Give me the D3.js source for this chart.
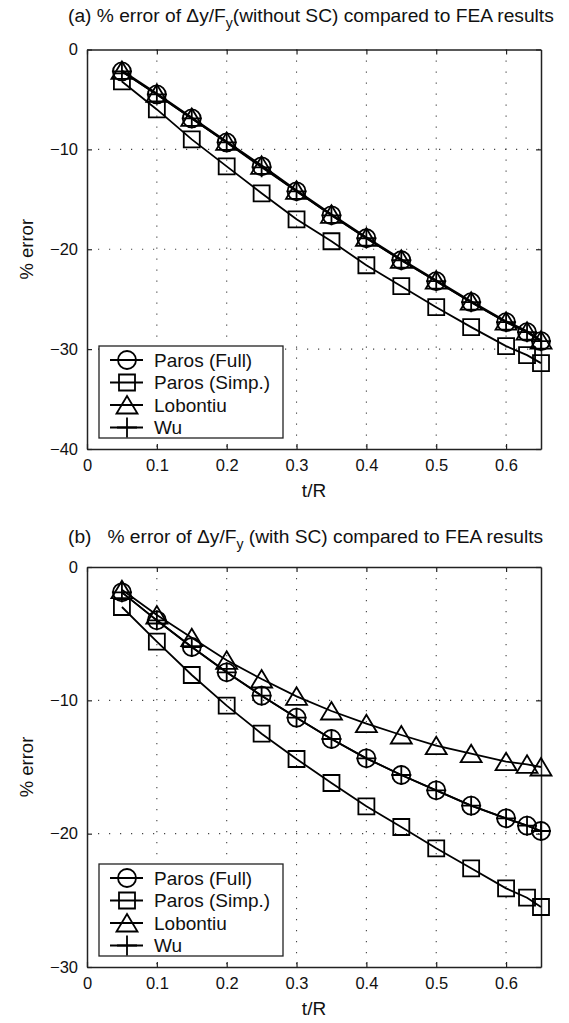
<!DOCTYPE html>
<html>
<head>
<meta charset="utf-8">
<script src="https://cdn.jsdelivr.net/npm/d3@7"></script>
<style>
  body { margin: 0; background: #fff; }
  svg text { font-family: "Liberation Sans", Arial, sans-serif; fill: #111; }
</style>
</head>
<body>
<svg id="chart"></svg>
<script>
// t/R values shared by both panels
const tR = [0.05, 0.1, 0.15, 0.2, 0.25, 0.3, 0.35, 0.4, 0.45, 0.5, 0.55, 0.6, 0.63, 0.65];

// (a) without SC
const fullA = [-2.2, -4.5, -6.9, -9.3, -11.7, -14.2, -16.6, -18.9, -21.1, -23.2, -25.3, -27.3, -28.3, -29.2];
const simpA = [-3.2, -6.0, -9.0, -11.7, -14.4, -17.0, -19.2, -21.6, -23.7, -25.8, -27.8, -29.7, -30.6, -31.4];
const lobA  = [-2.1, -4.4, -6.8, -9.2, -11.6, -14.1, -16.5, -18.8, -21.0, -23.1, -25.2, -27.2, -28.2, -29.1];
const wuA   = [-2.2, -4.5, -6.9, -9.3, -11.8, -14.2, -16.6, -18.9, -21.1, -23.2, -25.3, -27.3, -28.3, -29.2];

// (b) with SC
const fullB = [-1.9, -4.0, -6.0, -7.9, -9.65, -11.3, -12.9, -14.35, -15.6, -16.75, -17.9, -18.85, -19.4, -19.8];
const simpB = [-3.0, -5.6, -8.1, -10.4, -12.5, -14.4, -16.2, -17.95, -19.5, -21.1, -22.6, -24.1, -24.8, -25.5];
const lobB  = [-1.7, -3.6, -5.3, -7.0, -8.4, -9.7, -10.8, -11.75, -12.6, -13.4, -14.0, -14.6, -14.8, -15.0];
const wuB   = [-1.9, -4.0, -6.0, -7.9, -9.65, -11.3, -12.9, -14.35, -15.6, -16.75, -17.9, -18.85, -19.4, -19.8];

const seriesNames = ["Paros (Full)", "Paros (Simp.)", "Lobontiu", "Wu"];
const markerTypes = ["circle", "square", "triangle", "plus"];

const xTicks = [0, 0.1, 0.2, 0.3, 0.4, 0.5, 0.6];
const yTicksA = [0, -10, -20, -30, -40];
const yTicksB = [0, -10, -20, -30];

const width = 569, height = 1023;
const svg = d3.select("#chart").attr("width", width).attr("height", height);

const markerPath = {
  circle: "M-9,0A9,9 0 1,0 9,0A9,9 0 1,0 -9,0Z",
  square: "M-8,-8H8V8H-8Z",
  triangle: "M0,-9L10.5,8.5H-10.5Z",
  plus: "M-10,0H10M0,-10V10"
};

const fmt = v => (v < 0 ? "\u2212" + Math.abs(v) : String(v));

function panel(cfg) {
  const x = d3.scaleLinear().domain([0, 0.65]).range([87, 541]);
  const y = d3.scaleLinear().domain(cfg.yDomain).range([cfg.top, cfg.bottom]);
  const g = svg.append("g");

  // title
  const title = g.append("text")
    .attr("x", 68).attr("y", cfg.titleY)
    .style("font-size", "19.2px")
    .style("white-space", "pre");
  title.append("tspan").text(cfg.titlePre);
  title.append("tspan").attr("dy", 6).style("font-size", "14px").text("y");
  title.append("tspan").attr("dy", -6).text(cfg.titlePost);

  // dotted grid
  g.append("g").selectAll("line")
    .data(xTicks.filter(d => d > 0))
    .enter().append("line")
      .attr("x1", d => x(d)).attr("x2", d => x(d))
      .attr("y1", cfg.top).attr("y2", cfg.bottom)
      .attr("stroke", "#444").attr("stroke-width", 1.1)
      .attr("stroke-dasharray", "1.2,9.8");
  g.append("g").selectAll("line")
    .data(cfg.yTicks.slice(1, -1))
    .enter().append("line")
      .attr("x1", 87).attr("x2", 541)
      .attr("y1", d => y(d)).attr("y2", d => y(d))
      .attr("stroke", "#444").attr("stroke-width", 1.1)
      .attr("stroke-dasharray", "1.2,9.8");

  // axes: ticks inward on all four sides
  const axB = g.append("g").attr("transform", "translate(0," + cfg.bottom + ")")
    .call(d3.axisBottom(x).tickValues(xTicks).tickSizeInner(-5).tickSizeOuter(0).tickPadding(10).tickFormat(d => String(d)));
  const axT = g.append("g").attr("transform", "translate(0," + cfg.top + ")")
    .call(d3.axisTop(x).tickValues(xTicks).tickSizeInner(-5).tickSizeOuter(0).tickFormat(""));
  const axL = g.append("g").attr("transform", "translate(87,0)")
    .call(d3.axisLeft(y).tickValues(cfg.yTicks).tickSizeInner(-5).tickSizeOuter(0).tickPadding(9).tickFormat(fmt));
  const axR = g.append("g").attr("transform", "translate(541,0)")
    .call(d3.axisRight(y).tickValues(cfg.yTicks).tickSizeInner(-5).tickSizeOuter(0).tickFormat(""));
  [axB, axT, axL, axR].forEach(a => {
    a.select(".domain").attr("stroke", "#222").attr("stroke-width", 1.5);
    a.selectAll(".tick line").attr("stroke", "#222").attr("stroke-width", 1.2);
    a.selectAll("text").style("font-size", "16.5px").attr("fill", "#111");
  });
  axL.selectAll("text").attr("dy", "0.32em");

  // axis labels
  g.append("text")
    .attr("x", x(0.325)).attr("y", cfg.bottom + 48)
    .attr("text-anchor", "middle").style("font-size", "19px").text("t/R");
  g.append("text")
    .attr("transform", "translate(33," + ((cfg.top + cfg.bottom) / 2) + ") rotate(-90)")
    .attr("text-anchor", "middle").style("font-size", "18.5px").text("% error");

  // series
  const line = d3.line().x((d, i) => x(tR[i])).y(d => y(d));
  cfg.series.forEach((vals, k) => {
    g.append("path").datum(vals)
      .attr("d", line).attr("fill", "none")
      .attr("stroke", "#000").attr("stroke-width", 1.8);
    g.append("g").selectAll("path")
      .data(vals).enter().append("path")
        .attr("transform", (d, i) => "translate(" + x(tR[i]) + "," + y(d) + ")")
        .attr("d", markerPath[markerTypes[k]])
        .attr("fill", "none").attr("stroke", "#000").attr("stroke-width", 1.8);
  });

  // legend
  const lg = g.append("g");
  lg.append("rect")
    .attr("x", 99).attr("y", cfg.legendTop).attr("width", 184).attr("height", 92)
    .attr("fill", "#fff").attr("stroke", "#222").attr("stroke-width", 1.3);
  seriesNames.forEach((name, k) => {
    const ry = cfg.legendTop + 14 + k * 22.5;
    lg.append("line").attr("x1", 110).attr("x2", 143).attr("y1", ry).attr("y2", ry)
      .attr("stroke", "#000").attr("stroke-width", 1.8);
    lg.append("path").attr("transform", "translate(127," + ry + ")")
      .attr("d", markerPath[markerTypes[k]])
      .attr("fill", "none").attr("stroke", "#000").attr("stroke-width", 1.8);
    lg.append("text").attr("x", 154).attr("y", ry).attr("dy", "0.36em")
      .style("font-size", "19px").text(name);
  });
}

panel({
  top: 49.5, bottom: 449, yDomain: [0, -40], yTicks: yTicksA,
  titleY: 22,
  titlePre: "(a) % error of \u0394y/F", titlePost: "(without SC) compared to FEA results",
  series: [fullA, simpA, lobA, wuA], legendTop: 346
});
panel({
  top: 567, bottom: 967, yDomain: [0, -30], yTicks: yTicksB,
  titleY: 543,
  titlePre: "(b)   % error of \u0394y/F", titlePost: " (with SC) compared to FEA results",
  series: [fullB, simpB, lobB, wuB], legendTop: 864
});
</script>
</body>
</html>
